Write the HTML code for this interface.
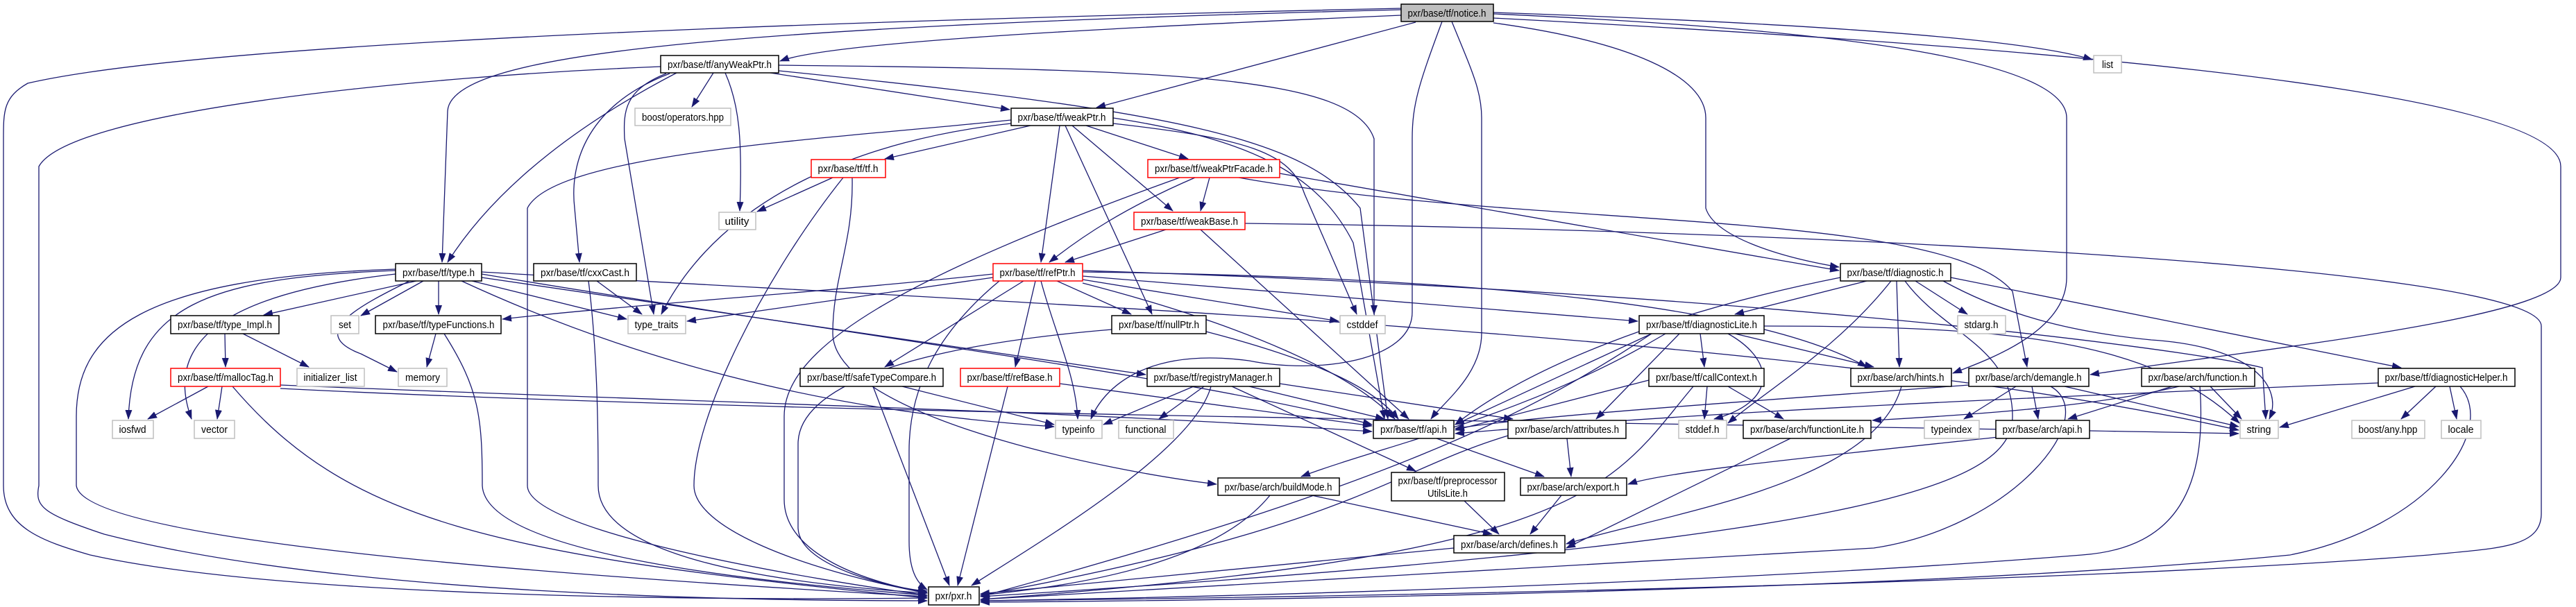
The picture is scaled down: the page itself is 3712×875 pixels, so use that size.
<!DOCTYPE html>
<html><head><meta charset="utf-8"><style>
html,body{margin:0;padding:0;background:#fff;}
svg{display:block;}
.e{fill:none;stroke:#191970;stroke-width:1.3;marker-end:url(#a);}
.n rect{fill:#fff;stroke:#000;stroke-width:1.5;}
.r rect{fill:#fff;stroke:#ff0000;stroke-width:1.5;}
.g rect{fill:#fff;stroke:#bfbfbf;stroke-width:1.5;}
text{font-family:"Liberation Sans",sans-serif;font-size:15px;fill:#000;text-anchor:middle;}
</style></head><body>
<svg width="3712" height="875" viewBox="0 0 3712 875" xmlns="http://www.w3.org/2000/svg">
<defs><marker id="a" markerUnits="userSpaceOnUse" markerWidth="14" markerHeight="10" refX="13" refY="5" orient="auto"><path d="M0,0 L14,5 L0,10 z" fill="#191970"/></marker></defs>
<g>
<path class="e" d="M2019,22 C1600,40 1200,60 1124,88"/>
<path class="e" d="M2019,14 C1000,40 650,80 645,160 L637,378"/>
<path class="e" d="M2019,12 C1200,30 300,60 40,120 C5,140 5,160 5,200 L5,700 C5,760 60,780 130,800 C400,860 1000,866 1336,862"/>
<path class="e" d="M2040,32 L1580,155"/>
<path class="e" d="M2078,31 C2045,120 2035,150 2035,200 L2035,450 C2035,520 1900,540 1800,520 C1650,500 1590,560 1572,604"/>
<path class="e" d="M2092,31 C2120,100 2135,130 2135,170 L2135,480 C2135,540 2080,580 2062,604"/>
<path class="e" d="M2152,33 C2350,60 2458,110 2458,170 L2458,300 C2470,340 2560,370 2650,385"/>
<path class="e" d="M2152,20 C2600,40 2978,80 2978,170 L2978,400 C2978,480 2860,520 2814,538"/>
<path class="e" d="M2152,18 C2500,30 2900,50 3015,86"/>
<path class="e" d="M2152,26 C2800,60 3690,120 3690,240 L3690,400 C3690,460 3200,510 3012,540"/>
<path class="e" d="M975,105 C850,170 720,260 645,378"/>
<path class="e" d="M1028,105 L997,154"/>
<path class="e" d="M1045,105 C1065,150 1070,200 1066,304"/>
<path class="e" d="M960,106 C900,130 898,160 900,200 L942,453"/>
<path class="e" d="M965,106 C850,150 820,230 828,300 L835,378"/>
<path class="e" d="M952,96 C600,110 100,160 56,240 L56,700 C50,730 60,740 150,770 C500,860 1100,866 1336,866"/>
<path class="e" d="M1110,105 L1455,158"/>
<path class="e" d="M1122,94 C1700,100 1950,110 1980,200 L1980,453"/>
<path class="e" d="M1122,102 C1700,160 1880,200 1960,300 L2000,604"/>
<path class="e" d="M1485,181 L1275,229"/>
<path class="e" d="M1527,181 L1500,378"/>
<path class="e" d="M1535,181 L1660,453"/>
<path class="e" d="M1545,181 L1690,304"/>
<path class="e" d="M1565,181 L1712,229"/>
<path class="e" d="M1457,178 C1250,200 1040,280 953,453"/>
<path class="e" d="M1457,173 C1200,200 800,220 760,300 L760,700 C760,770 1200,840 1336,858"/>
<path class="e" d="M1604,178 C1800,200 1860,220 1880,280 L1955,453"/>
<path class="e" d="M1604,170 C1800,200 1900,250 1950,350 L1995,604"/>
<path class="e" d="M1200,256 L1091,305"/>
<path class="e" d="M1228,256 C1230,350 1200,400 1200,480 C1200,600 1600,680 1753,698"/>
<path class="e" d="M1215,256 C1100,400 1000,600 1000,700 C1000,760 1150,820 1336,855"/>
<path class="e" d="M1722,256 C1620,300 1560,340 1512,378"/>
<path class="e" d="M1743,256 L1730,304"/>
<path class="e" d="M1844,250 L2650,390"/>
<path class="e" d="M1785,256 C2200,330 2800,300 2900,420 L2921,529"/>
<path class="e" d="M1700,256 C1300,400 1130,500 1130,600 L1130,720 C1130,800 1250,840 1336,854"/>
<path class="e" d="M1680,331 L1535,378"/>
<path class="e" d="M1730,331 L2030,604"/>
<path class="e" d="M1794,322 C2500,330 3662,380 3662,470 L3662,740 C3662,790 3600,790 3500,800 C3000,840 2000,860 1413,866"/>
<path class="e" d="M1431,400 L990,463"/>
<path class="e" d="M1431,395 C1200,420 900,440 724,460"/>
<path class="e" d="M1475,405 L1275,529"/>
<path class="e" d="M1492,405 L1463,529"/>
<path class="e" d="M1500,405 C1520,480 1550,540 1553,604"/>
<path class="e" d="M1523,405 L1630,453"/>
<path class="e" d="M1560,403 L1929,463"/>
<path class="e" d="M1560,408 C1800,470 1950,540 2010,604"/>
<path class="e" d="M1560,398 L2360,463"/>
<path class="e" d="M1560,392 C2200,400 2550,450 2690,529"/>
<path class="e" d="M1440,405 C1350,480 1310,560 1310,650 L1310,780 C1310,820 1320,840 1336,850"/>
<path class="e" d="M1560,390 C2500,420 3140,500 3260,530 L3265,604"/>
<path class="e" d="M600,405 L380,454"/>
<path class="e" d="M610,405 L520,455"/>
<path class="e" d="M632,405 L632,453"/>
<path class="e" d="M680,405 L903,460"/>
<path class="e" d="M590,405 C520,440 440,480 520,510 L572,536"/>
<path class="e" d="M570,390 C300,400 190,440 185,604"/>
<path class="e" d="M570,395 C350,420 230,480 276,604"/>
<path class="e" d="M570,388 C200,400 110,480 110,600 L110,700 C120,780 800,830 1336,860"/>
<path class="e" d="M665,405 C1000,560 1300,600 1519,615"/>
<path class="e" d="M694,400 L1651,540"/>
<path class="e" d="M694,395 C1200,480 1700,540 1977,612"/>
<path class="e" d="M694,392 C1500,440 2600,480 3226,620"/>
<path class="e" d="M324,481 L325,529"/>
<path class="e" d="M350,481 L445,529"/>
<path class="e" d="M300,557 L213,604"/>
<path class="e" d="M320,557 L313,604"/>
<path class="e" d="M335,557 C500,750 700,800 1336,862"/>
<path class="e" d="M404,555 C1000,580 1500,590 1977,622"/>
<path class="e" d="M404,560 C1200,600 2500,610 3226,625"/>
<path class="e" d="M628,481 L615,529"/>
<path class="e" d="M640,481 C690,560 695,600 695,700 C700,800 1100,840 1336,858"/>
<path class="e" d="M860,405 L925,453"/>
<path class="e" d="M848,405 C860,500 862,600 862,700 C862,800 1100,840 1336,855"/>
<path class="e" d="M1738,478 C1900,520 1980,560 2015,604"/>
<path class="e" d="M1602,475 C1300,500 1150,560 1150,640 L1150,760 C1150,820 1300,850 1336,852"/>
<path class="e" d="M1300,557 L1519,612"/>
<path class="e" d="M1258,557 L1368,844"/>
<path class="e" d="M1527,553 L1977,614"/>
<path class="e" d="M1452,557 L1380,844"/>
<path class="e" d="M1720,557 L1590,612"/>
<path class="e" d="M1735,557 L1670,604"/>
<path class="e" d="M1800,557 L1995,604"/>
<path class="e" d="M1745,557 C1720,650 1500,780 1400,844"/>
<path class="e" d="M1775,557 L2040,679"/>
<path class="e" d="M1844,553 L2180,604"/>
<path class="e" d="M2690,405 L2500,453"/>
<path class="e" d="M2733,405 L2737,529"/>
<path class="e" d="M2760,405 L2835,453"/>
<path class="e" d="M2800,405 C2900,460 3000,480 3100,490 C3250,500 3290,560 3270,604"/>
<path class="e" d="M2811,400 L3460,530"/>
<path class="e" d="M2652,400 C2400,450 2200,530 2097,612"/>
<path class="e" d="M2725,405 C2650,500 2550,560 2490,610"/>
<path class="e" d="M2745,405 C2800,480 2900,500 2900,600 C2900,700 2700,780 1413,860"/>
<path class="e" d="M2380,481 L2097,612"/>
<path class="e" d="M2450,481 L2456,529"/>
<path class="e" d="M2420,481 L2300,604"/>
<path class="e" d="M2500,481 L2700,529"/>
<path class="e" d="M2490,481 C2560,520 2560,580 2470,604"/>
<path class="e" d="M2542,470 C2900,470 3100,490 3227,610"/>
<path class="e" d="M2400,481 C2200,600 2000,640 1875,687"/>
<path class="e" d="M2380,481 C2200,600 2000,700 1413,860"/>
<path class="e" d="M2376,548 L2097,620"/>
<path class="e" d="M2460,557 L2456,604"/>
<path class="e" d="M2490,557 L2570,604"/>
<path class="e" d="M2440,557 C2320,700 2300,800 1413,864"/>
<path class="e" d="M2740,557 C2700,700 2400,740 2257,784"/>
<path class="e" d="M2905,557 L2830,604"/>
<path class="e" d="M2928,557 L2937,604"/>
<path class="e" d="M2975,557 L3226,615"/>
<path class="e" d="M2955,557 C3030,600 2900,760 2700,790 C2200,820 1700,850 1413,864"/>
<path class="e" d="M2837,555 C2500,580 2200,600 2097,618"/>
<path class="e" d="M3185,557 L3230,604"/>
<path class="e" d="M3140,557 C3000,590 2800,600 2698,606"/>
<path class="e" d="M3130,557 L2980,604"/>
<path class="e" d="M3170,557 C3180,700 3140,790 3000,800 C2500,840 1800,860 1413,866"/>
<path class="e" d="M3427,552 C3000,570 2500,590 2097,625"/>
<path class="e" d="M3480,557 L3285,616"/>
<path class="e" d="M3510,557 L3460,604"/>
<path class="e" d="M3530,557 L3540,604"/>
<path class="e" d="M3545,557 C3600,620 3500,760 3300,800 C2800,850 1800,866 1413,868"/>
<path class="e" d="M2580,632 L2257,790"/>
<path class="e" d="M2880,630 C2600,660 2400,680 2346,698"/>
<path class="e" d="M2070,632 L2225,687"/>
<path class="e" d="M2258,632 L2264,687"/>
<path class="e" d="M2173,628 C2000,680 1950,760 1413,858"/>
<path class="e" d="M2250,714 L2205,770"/>
<path class="e" d="M1890,714 L2150,770"/>
<path class="e" d="M1830,714 C1760,800 1600,840 1413,858"/>
<path class="e" d="M2110,722 L2160,770"/>
<path class="e" d="M2095,790 L1413,856"/>
</g>
<g class="n"><rect x="2019" y="6" width="133" height="25" style="fill:#bfbfbf"/><text x="2085" y="24" textLength="113" lengthAdjust="spacingAndGlyphs">pxr/base/tf/notice.h</text></g>
<g class="n"><rect x="952" y="80" width="170" height="25"/><text x="1037" y="98" textLength="150" lengthAdjust="spacingAndGlyphs">pxr/base/tf/anyWeakPtr.h</text></g>
<g class="g"><rect x="915" y="156" width="138" height="25"/><text x="984" y="174" textLength="118" lengthAdjust="spacingAndGlyphs">boost/operators.hpp</text></g>
<g class="g"><rect x="1036" y="306" width="53" height="25"/><text x="1062" y="324" textLength="35" lengthAdjust="spacingAndGlyphs">utility</text></g>
<g class="n"><rect x="570" y="380" width="124" height="25"/><text x="632" y="398" textLength="104" lengthAdjust="spacingAndGlyphs">pxr/base/tf/type.h</text></g>
<g class="n"><rect x="769" y="380" width="148" height="25"/><text x="843" y="398" textLength="128" lengthAdjust="spacingAndGlyphs">pxr/base/tf/cxxCast.h</text></g>
<g class="n"><rect x="246" y="455" width="156" height="26"/><text x="324" y="473" textLength="136" lengthAdjust="spacingAndGlyphs">pxr/base/tf/type_Impl.h</text></g>
<g class="g"><rect x="477" y="455" width="40" height="26"/><text x="497" y="473" textLength="18" lengthAdjust="spacingAndGlyphs">set</text></g>
<g class="n"><rect x="541" y="455" width="181" height="26"/><text x="632" y="473" textLength="161" lengthAdjust="spacingAndGlyphs">pxr/base/tf/typeFunctions.h</text></g>
<g class="g"><rect x="905" y="455" width="83" height="26"/><text x="946" y="473" textLength="63" lengthAdjust="spacingAndGlyphs">type_traits</text></g>
<g class="r"><rect x="246" y="531" width="158" height="26"/><text x="325" y="549" textLength="138" lengthAdjust="spacingAndGlyphs">pxr/base/tf/mallocTag.h</text></g>
<g class="g"><rect x="428" y="531" width="97" height="26"/><text x="476" y="549" textLength="77" lengthAdjust="spacingAndGlyphs">initializer_list</text></g>
<g class="g"><rect x="574" y="531" width="70" height="26"/><text x="609" y="549" textLength="50" lengthAdjust="spacingAndGlyphs">memory</text></g>
<g class="g"><rect x="162" y="606" width="59" height="26"/><text x="191" y="624" textLength="39" lengthAdjust="spacingAndGlyphs">iosfwd</text></g>
<g class="g"><rect x="280" y="606" width="58" height="26"/><text x="309" y="624" textLength="38" lengthAdjust="spacingAndGlyphs">vector</text></g>
<g class="r"><rect x="1169" y="230" width="107" height="26"/><text x="1222" y="248" textLength="87" lengthAdjust="spacingAndGlyphs">pxr/base/tf/tf.h</text></g>
<g class="n"><rect x="1153" y="531" width="206" height="26"/><text x="1256" y="549" textLength="186" lengthAdjust="spacingAndGlyphs">pxr/base/tf/safeTypeCompare.h</text></g>
<g class="n"><rect x="1457" y="156" width="147" height="25"/><text x="1530" y="174" textLength="127" lengthAdjust="spacingAndGlyphs">pxr/base/tf/weakPtr.h</text></g>
<g class="r"><rect x="1654" y="230" width="190" height="26"/><text x="1749" y="248" textLength="170" lengthAdjust="spacingAndGlyphs">pxr/base/tf/weakPtrFacade.h</text></g>
<g class="r"><rect x="1634" y="306" width="160" height="25"/><text x="1714" y="324" textLength="140" lengthAdjust="spacingAndGlyphs">pxr/base/tf/weakBase.h</text></g>
<g class="r"><rect x="1431" y="380" width="129" height="25"/><text x="1495" y="398" textLength="109" lengthAdjust="spacingAndGlyphs">pxr/base/tf/refPtr.h</text></g>
<g class="n"><rect x="1602" y="455" width="136" height="26"/><text x="1670" y="473" textLength="116" lengthAdjust="spacingAndGlyphs">pxr/base/tf/nullPtr.h</text></g>
<g class="g"><rect x="1931" y="455" width="65" height="26"/><text x="1963" y="473" textLength="45" lengthAdjust="spacingAndGlyphs">cstddef</text></g>
<g class="n"><rect x="2362" y="455" width="180" height="26"/><text x="2452" y="473" textLength="160" lengthAdjust="spacingAndGlyphs">pxr/base/tf/diagnosticLite.h</text></g>
<g class="r"><rect x="1384" y="531" width="143" height="26"/><text x="1455" y="549" textLength="123" lengthAdjust="spacingAndGlyphs">pxr/base/tf/refBase.h</text></g>
<g class="n"><rect x="1653" y="531" width="191" height="26"/><text x="1748" y="549" textLength="171" lengthAdjust="spacingAndGlyphs">pxr/base/tf/registryManager.h</text></g>
<g class="n"><rect x="2376" y="531" width="166" height="26"/><text x="2459" y="549" textLength="146" lengthAdjust="spacingAndGlyphs">pxr/base/tf/callContext.h</text></g>
<g class="g"><rect x="1521" y="606" width="67" height="26"/><text x="1554" y="624" textLength="47" lengthAdjust="spacingAndGlyphs">typeinfo</text></g>
<g class="g"><rect x="1612" y="606" width="79" height="26"/><text x="1651" y="624" textLength="59" lengthAdjust="spacingAndGlyphs">functional</text></g>
<g class="n"><rect x="1979" y="606" width="116" height="26"/><text x="2037" y="624" textLength="96" lengthAdjust="spacingAndGlyphs">pxr/base/tf/api.h</text></g>
<g class="n"><rect x="2173" y="606" width="170" height="26"/><text x="2258" y="624" textLength="150" lengthAdjust="spacingAndGlyphs">pxr/base/arch/attributes.h</text></g>
<g class="g"><rect x="2419" y="606" width="69" height="26"/><text x="2453" y="624" textLength="49" lengthAdjust="spacingAndGlyphs">stddef.h</text></g>
<g class="n"><rect x="1755" y="689" width="175" height="25"/><text x="1842" y="707" textLength="155" lengthAdjust="spacingAndGlyphs">pxr/base/arch/buildMode.h</text></g>
<g class="n"><rect x="2005" y="681" width="163" height="41"/><text x="2086" y="698" textLength="143" lengthAdjust="spacingAndGlyphs">pxr/base/tf/preprocessor</text><text x="2086" y="716" textLength="58" lengthAdjust="spacingAndGlyphs">UtilsLite.h</text></g>
<g class="n"><rect x="2191" y="689" width="153" height="25"/><text x="2267" y="707" textLength="133" lengthAdjust="spacingAndGlyphs">pxr/base/arch/export.h</text></g>
<g class="n"><rect x="2095" y="772" width="160" height="25"/><text x="2175" y="790" textLength="140" lengthAdjust="spacingAndGlyphs">pxr/base/arch/defines.h</text></g>
<g class="n"><rect x="1338" y="846" width="73" height="26"/><text x="1374" y="864" textLength="53" lengthAdjust="spacingAndGlyphs">pxr/pxr.h</text></g>
<g class="g"><rect x="3017" y="80" width="40" height="25"/><text x="3037" y="98" textLength="16" lengthAdjust="spacingAndGlyphs">list</text></g>
<g class="n"><rect x="2652" y="380" width="159" height="25"/><text x="2731" y="398" textLength="139" lengthAdjust="spacingAndGlyphs">pxr/base/tf/diagnostic.h</text></g>
<g class="g"><rect x="2821" y="455" width="69" height="26"/><text x="2855" y="473" textLength="49" lengthAdjust="spacingAndGlyphs">stdarg.h</text></g>
<g class="n"><rect x="2667" y="531" width="145" height="26"/><text x="2739" y="549" textLength="125" lengthAdjust="spacingAndGlyphs">pxr/base/arch/hints.h</text></g>
<g class="n"><rect x="2837" y="531" width="173" height="26"/><text x="2923" y="549" textLength="153" lengthAdjust="spacingAndGlyphs">pxr/base/arch/demangle.h</text></g>
<g class="n"><rect x="3086" y="531" width="163" height="26"/><text x="3167" y="549" textLength="143" lengthAdjust="spacingAndGlyphs">pxr/base/arch/function.h</text></g>
<g class="n"><rect x="3427" y="531" width="197" height="26"/><text x="3525" y="549" textLength="177" lengthAdjust="spacingAndGlyphs">pxr/base/tf/diagnosticHelper.h</text></g>
<g class="n"><rect x="2512" y="606" width="184" height="26"/><text x="2604" y="624" textLength="164" lengthAdjust="spacingAndGlyphs">pxr/base/arch/functionLite.h</text></g>
<g class="g"><rect x="2773" y="606" width="79" height="26"/><text x="2812" y="624" textLength="59" lengthAdjust="spacingAndGlyphs">typeindex</text></g>
<g class="n"><rect x="2876" y="606" width="135" height="26"/><text x="2943" y="624" textLength="115" lengthAdjust="spacingAndGlyphs">pxr/base/arch/api.h</text></g>
<g class="g"><rect x="3228" y="606" width="55" height="26"/><text x="3255" y="624" textLength="35" lengthAdjust="spacingAndGlyphs">string</text></g>
<g class="g"><rect x="3389" y="606" width="105" height="26"/><text x="3441" y="624" textLength="85" lengthAdjust="spacingAndGlyphs">boost/any.hpp</text></g>
<g class="g"><rect x="3518" y="606" width="57" height="26"/><text x="3546" y="624" textLength="37" lengthAdjust="spacingAndGlyphs">locale</text></g>
</svg>
</body></html>
